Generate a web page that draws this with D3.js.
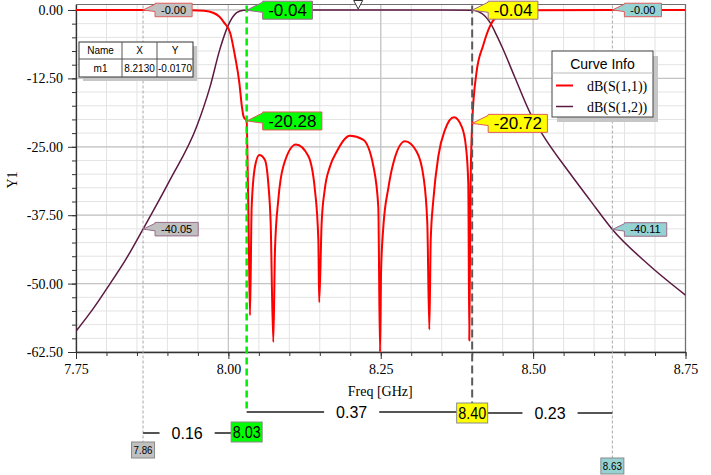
<!DOCTYPE html>
<html><head><meta charset="utf-8">
<script src="https://cdn.jsdelivr.net/npm/d3@7"></script>
<style>body{margin:0;background:#fff}svg{display:block}</style>
</head><body><svg id="c" width="711" height="475"></svg>
<script>
// ---------- data ----------
const s11Freq = [7.75,7.90,7.94,7.96,7.975,7.985,7.993,8.003,8.011,8.018,8.022,8.025,8.03,8.0315,8.0335,8.0355,
  8.0382,8.0437,8.0507,8.06,8.0655,8.0694,8.0737,
  8.0765,8.0819,8.0901,8.111,8.1311,8.142,8.1476,8.149,
  8.153,8.158,8.1667,8.1777,8.1995,8.221,8.238,8.246,8.2488,
  8.2505,8.254,8.2625,8.2706,8.2898,8.309,8.32,8.3264,8.3297,
  8.332,8.3363,8.3445,8.3554,8.3702,8.3828,8.3898,8.3936,8.3953,
  8.397,8.40,8.407,8.418,8.429,8.44,8.45,8.47,8.50,8.75];
const s11dB = [0,-0.01,-0.05,-0.15,-0.5,-1.2,-2.3,-4.2,-8.5,-13.3,-17.5,-19.5,-20.28,-28,-42,-55.8,
  -36,-28.6,-26.5,-27.4,-31.7,-39,-60.7,
  -43.7,-34.7,-28.6,-24.6,-26.7,-32.9,-42,-53.4,
  -39,-32.9,-28.6,-25.9,-23.0,-23.7,-28.6,-36,-62.5,
  -48,-40,-32.5,-28,-24.0,-25.9,-30.4,-39,-58.4,
  -42,-34.7,-26.7,-21.9,-19.6,-21.3,-25,-31.7,-60.4,
  -35,-20.72,-11.5,-6.5,-3.0,-1.2,-0.45,-0.1,-0.03,0];
const s12Freq = [7.75,7.78,7.806,7.83,7.86,7.904,7.948,7.97,7.986,7.999,8.0136,8.025,8.03,8.10,8.20,8.30,8.40,
  8.41,8.42,8.43,8.44,8.45,8.47,8.495,8.514,8.56,8.593,8.63,8.69,8.75];
const s12dB = [-58.7,-54.3,-50,-45.9,-40.05,-31.1,-21.3,-14.0,-7.2,-3.0,-0.5,-0.05,-0.04,-0.02,-0.02,-0.02,-0.04,
  -0.3,-1.0,-2.4,-4.6,-7.0,-12.3,-18.8,-22.5,-29.8,-34.7,-40.11,-46.6,-52.1];

const xTicks = [7.75, 8.00, 8.25, 8.50, 8.75];
const yTicks = [0, -12.5, -25, -37.5, -50, -62.5];
const seriesNames = ["dB(S(1,1))", "dB(S(1,2))"];

const markerFreq = [7.86, 8.03, 8.40, 8.63];
const markerTopVal = ["-0.00", "-0.04", "-0.04", "-0.00"];
const markerLowVal = ["-40.05", "-20.28", "-20.72", "-40.11"];
const markerTopSeries = [0, 1, 1, 0];   // which curve carries the top label
const markerLowSeries = [1, 0, 0, 1];
const deltaVals = ["0.16", "0.37", "0.23"];

const m1Freq = 8.213;
const tableHead = ["Name", "X", "Y"];
const tableRow = ["m1", "8.2130", "-0.0170"];

// ---------- styles / layout ----------
const curveColor = ["#ff0000", "#5c1a42"];
const curveWidth = [2, 1.5];
const calloutBorder = ["#e05a5a", "#9a6a8a"];
const markerFill = ["#c0c0c0", "#00ff00", "#ffff00", "#97d2d2"];
const markerBig = [false, true, true, false];
const markerLineColor = ["#a8a8a8", "#00ee00", "#5a5a5a", "#a8a8a8"];
const markerLineDash = ["3,2", "7,4", "8,4", "3,2"];
const markerLineW = [1, 2.5, 2, 1];
const markerLineEnd = [442, 412, 403, 458];
const markerBoxTop = [442, 422, 403, 458];
const deltaY = [433, 412, 413];

const svg = d3.select("#c");
const x = d3.scaleLinear().domain([7.75, 8.75]).range([76, 685.5]);
const y = d3.scaleLinear().domain([-62.5, 1.0]).range([352, 4.5]);
const [X0, X1] = x.range();
const [Y0, Y1] = [y.range()[1], y.range()[0]];

// grid
const minorX = d3.range(0, 21).map(i => 7.75 + i * 0.05);
const minorY = d3.range(0, 26).map(i => -62.5 + i * 2.5);
const g = svg.append("g");
g.selectAll(".gx").data(minorX).join("line")
  .attr("x1", d => x(d)).attr("x2", d => x(d)).attr("y1", Y0).attr("y2", Y1)
  .attr("stroke", "#e3e3e3").attr("stroke-width", 1);
g.selectAll(".gy").data(minorY).join("line")
  .attr("x1", X0).attr("x2", X1).attr("y1", d => y(d)).attr("y2", d => y(d))
  .attr("stroke", "#e3e3e3").attr("stroke-width", 1);
g.selectAll(".gX").data(xTicks).join("line")
  .attr("x1", d => x(d)).attr("x2", d => x(d)).attr("y1", Y0).attr("y2", Y1)
  .attr("stroke", "#c4c4c4").attr("stroke-width", 1.2);
g.selectAll(".gY").data(yTicks).join("line")
  .attr("x1", X0).attr("x2", X1).attr("y1", d => y(d)).attr("y2", d => y(d))
  .attr("stroke", "#c4c4c4").attr("stroke-width", 1.2);

// frame top/right
svg.append("path").attr("d", `M${X0},${Y0}H${X1}V${Y1}`).attr("fill", "none")
  .attr("stroke", "#707070").attr("stroke-width", 1.2);

// axes
const serif = "'Liberation Serif','Times New Roman',serif";
const sans = "'Liberation Sans',Arial,sans-serif";
const axL = svg.append("g").attr("transform", `translate(${X0},0)`)
  .call(d3.axisLeft(y).tickValues(yTicks).tickFormat(d => d.toFixed(2)).tickSize(8).tickSizeOuter(0));
svg.append("g").attr("transform", `translate(${X0},0)`)
  .call(d3.axisLeft(y).tickValues(minorY).tickFormat("").tickSize(4).tickSizeOuter(0))
  .select(".domain").remove();
const axB = svg.append("g").attr("transform", `translate(0,${Y1})`)
  .call(d3.axisBottom(x).tickValues(xTicks).tickFormat(d => d.toFixed(2)).tickSize(7).tickSizeOuter(0));
svg.append("g").attr("transform", `translate(0,${Y1})`)
  .call(d3.axisBottom(x).tickValues(minorX).tickFormat("").tickSize(4).tickSizeOuter(0))
  .select(".domain").remove();
svg.selectAll(".domain").attr("stroke", "#333").attr("stroke-width", 1.3);
svg.selectAll(".tick line").attr("stroke", "#333");
axL.selectAll("text").attr("font-family", serif).attr("font-size", 14).attr("fill", "#000").attr("dx", -2);
axB.selectAll("text").attr("font-family", serif).attr("font-size", 14).attr("fill", "#000").attr("dy", "0.85em");

svg.append("text").attr("x", (X0 + X1) / 2 - 0.5).attr("y", 396).attr("text-anchor", "middle")
  .attr("font-family", serif).attr("font-size", 14).text("Freq [GHz]");
svg.append("text").attr("transform", "translate(17,180) rotate(-90)").attr("text-anchor", "middle")
  .attr("font-family", serif).attr("font-size", 14).text("Y1");

// curves
svg.append("clipPath").attr("id", "clip").append("rect")
  .attr("x", X0).attr("y", Y0).attr("width", X1 - X0).attr("height", Y1 - Y0 + 1);
const line = d3.line().x(d => x(d[0])).y(d => y(d[1])).curve(d3.curveMonotoneX);
const series = [d3.zip(s11Freq, s11dB), d3.zip(s12Freq, s12dB)];
svg.append("g").attr("clip-path", "url(#clip)").selectAll("path").data([1, 0]).join("path")
  .attr("d", i => line(series[i])).attr("fill", "none")
  .attr("stroke", i => curveColor[i]).attr("stroke-width", i => curveWidth[i])
  .attr("stroke-linejoin", "round");

// marker vertical lines
markerFreq.forEach((f, i) => {
  svg.append("line").attr("x1", x(f)).attr("x2", x(f)).attr("y1", Y0 + 1).attr("y2", markerLineEnd[i])
    .attr("stroke", markerLineColor[i]).attr("stroke-width", markerLineW[i])
    .attr("stroke-dasharray", markerLineDash[i]);
});

// m1 triangle
const mx = x(m1Freq);
svg.append("path").attr("d", `M${mx - 4.5},0.5L${mx + 4.5},0.5L${mx},9Z`)
  .attr("fill", "#fff").attr("stroke", "#333").attr("stroke-width", 1);

// callouts
function callout(tx, ty, text, fill, stroke, big) {
  const fs = big ? 17 : 11;
  const h = big ? 18 : 13.5;
  const off = big ? 16 : 12;
  const gg = svg.append("g");
  const p = gg.append("path");
  const t = gg.append("text").attr("font-family", sans).attr("font-size", fs).text(text);
  const tw = t.node().getComputedTextLength();
  const w = tw + (big ? 11 : 12);
  let by = ty - h / 2; if (by < 0.5) by = 0.5;
  const bx = tx + off;
  p.attr("d", `M${tx},${ty}L${bx},${by + 1}L${bx},${by}H${bx + w}V${by + h}H${bx}V${by + h * 0.62}Z`)
    .attr("fill", fill).attr("stroke", stroke).attr("stroke-width", 1);
  t.attr("x", bx + w / 2).attr("y", by + h / 2).attr("dy", "0.36em").attr("text-anchor", "middle");
}
markerFreq.forEach((f, i) => {
  callout(x(f), y(+markerTopVal[i]), markerTopVal[i], markerFill[i], calloutBorder[markerTopSeries[i]], markerBig[i]);
  callout(x(f), y(+markerLowVal[i]), markerLowVal[i], markerFill[i], calloutBorder[markerLowSeries[i]], markerBig[i]);
});

// bottom frequency boxes
const boxes = markerFreq.map((f, i) => {
  const w = markerBig[i] ? 31 : 23, h = markerBig[i] ? 20 : 16;
  return {x: x(f) - w / 2, y: markerBoxTop[i], w, h, i};
});
// delta lines
deltaVals.forEach((v, k) => {
  const a = boxes[k], b = boxes[k + 1], yy = deltaY[k];
  const inA = yy >= a.y && yy <= a.y + a.h, inB = yy >= b.y && yy <= b.y + b.h;
  const xa = inA ? a.x + a.w : x(markerFreq[k]);
  const xb = inB ? b.x : x(markerFreq[k + 1]);
  const dg = svg.append("g");
  dg.append("line").attr("x1", xa).attr("x2", xb).attr("y1", yy).attr("y2", yy)
    .attr("stroke", "#555").attr("stroke-width", 2);
  const r = dg.append("rect").attr("fill", "#fff");
  const t = dg.append("text").attr("x", (xa + xb) / 2).attr("y", yy).attr("dy", "0.36em")
    .attr("text-anchor", "middle").attr("font-family", sans).attr("font-size", 16).text(v);
  const tw = t.node().getComputedTextLength();
  r.attr("x", (xa + xb) / 2 - tw / 2 - 12).attr("y", yy - 3).attr("width", tw + 24).attr("height", 6);
});
boxes.forEach(b => {
  svg.append("rect").attr("x", b.x).attr("y", b.y).attr("width", b.w).attr("height", b.h)
    .attr("fill", markerFill[b.i]).attr("stroke", "#8a8a8a").attr("stroke-width", 1);
  const fs = markerBig[b.i] ? 16 : 11;
  svg.append("text").attr("x", b.x + b.w / 2).attr("y", b.y + b.h / 2).attr("dy", "0.36em")
    .attr("text-anchor", "middle").attr("font-family", sans).attr("font-size", fs)
    .attr("textLength", b.w - (markerBig[b.i] ? 3 : 4)).attr("lengthAdjust", "spacingAndGlyphs")
    .text(markerFreq[b.i].toFixed(2));
});

// marker table
const tx0 = 79, ty0 = 42, tw0 = 114, th0 = 35, cols = [79, 122, 157, 193], rowY = [42, 59, 77];
svg.append("rect").attr("x", tx0 + 4).attr("y", ty0 + 4).attr("width", tw0).attr("height", th0).attr("fill", "#c6c6c6");
svg.append("rect").attr("x", tx0).attr("y", ty0).attr("width", tw0).attr("height", th0)
  .attr("fill", "#fff").attr("stroke", "#333").attr("stroke-width", 1);
svg.append("line").attr("x1", tx0).attr("x2", tx0 + tw0).attr("y1", rowY[1]).attr("y2", rowY[1]).attr("stroke", "#555");
[cols[1], cols[2]].forEach(cx => svg.append("line").attr("x1", cx).attr("x2", cx)
  .attr("y1", ty0).attr("y2", ty0 + th0).attr("stroke", "#555"));
[tableHead, tableRow].forEach((row, r) => row.forEach((s, c) => {
  svg.append("text").attr("x", (cols[c] + cols[c + 1]) / 2).attr("y", (rowY[r] + rowY[r + 1]) / 2)
    .attr("dy", "0.36em").attr("text-anchor", "middle").attr("font-family", sans).attr("font-size", 10).text(s);
}));

// legend
const lx = 552, ly = 51, lw = 101, lh = 66;
svg.append("rect").attr("x", lx + 5).attr("y", ly + 5).attr("width", lw).attr("height", lh).attr("fill", "#c6c6c6");
svg.append("rect").attr("x", lx).attr("y", ly).attr("width", lw).attr("height", lh)
  .attr("fill", "#fff").attr("stroke", "#444").attr("stroke-width", 1);
svg.append("line").attr("x1", lx).attr("x2", lx + lw).attr("y1", 73).attr("y2", 73).attr("stroke", "#bbb");
svg.append("text").attr("x", lx + lw / 2).attr("y", 69).attr("text-anchor", "middle")
  .attr("font-family", sans).attr("font-size", 14).text("Curve Info");
seriesNames.forEach((n, i) => {
  const yy = 85.5 + i * 21;
  svg.append("line").attr("x1", 556).attr("x2", 573).attr("y1", yy).attr("y2", yy)
    .attr("stroke", curveColor[i]).attr("stroke-width", curveWidth[i]);
  svg.append("text").attr("x", 587).attr("y", yy + 5).attr("font-family", serif).attr("font-size", 14).text(n);
});
</script></body></html>
